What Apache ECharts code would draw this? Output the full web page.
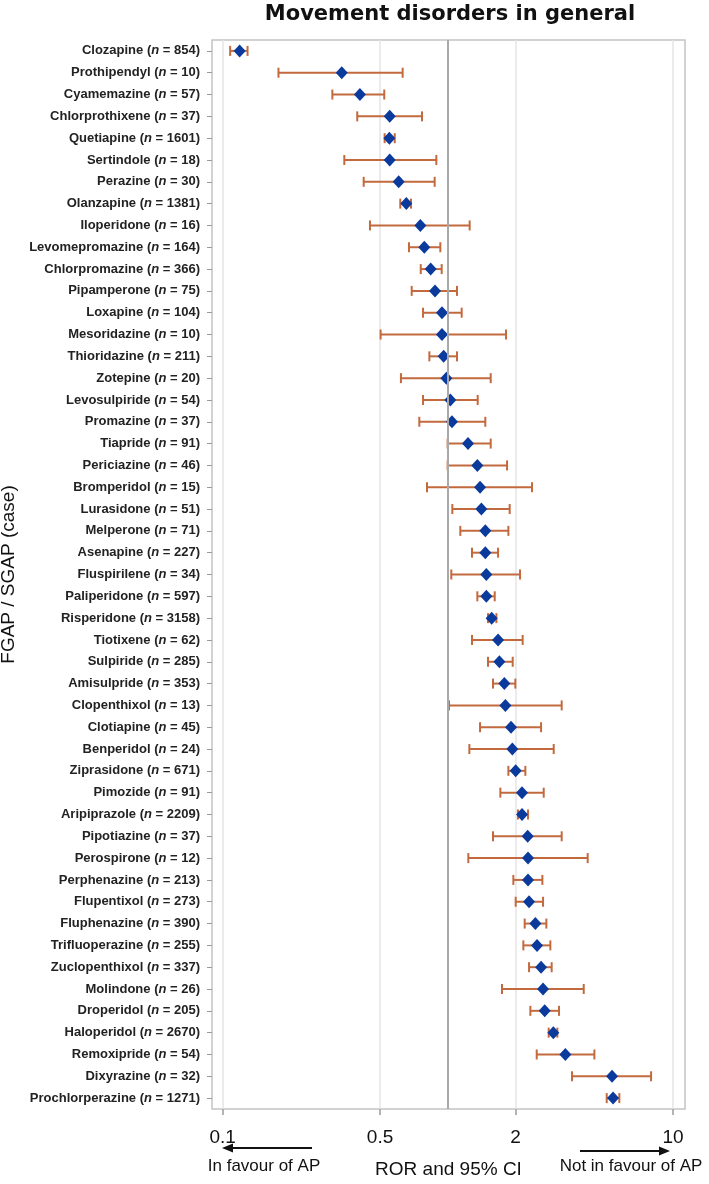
<!DOCTYPE html>
<html>
<head>
<meta charset="utf-8">
<script src="https://cdn.jsdelivr.net/npm/echarts@6/dist/echarts.min.js"></script>
<style>html,body{margin:0;padding:0;background:#fff;}#c{width:709px;height:1184px;}</style>
</head>
<body>
<div id="c"></div>
<script>
const drugs = ['Clozapine','Prothipendyl','Cyamemazine','Chlorprothixene','Quetiapine','Sertindole','Perazine','Olanzapine','Iloperidone','Levomepromazine','Chlorpromazine','Pipamperone','Loxapine','Mesoridazine','Thioridazine','Zotepine','Levosulpiride','Promazine','Tiapride','Periciazine','Bromperidol','Lurasidone','Melperone','Asenapine','Fluspirilene','Paliperidone','Risperidone','Tiotixene','Sulpiride','Amisulpride','Clopenthixol','Clotiapine','Benperidol','Ziprasidone','Pimozide','Aripiprazole','Pipotiazine','Perospirone','Perphenazine','Flupentixol','Fluphenazine','Trifluoperazine','Zuclopenthixol','Molindone','Droperidol','Haloperidol','Remoxipride','Dixyrazine','Prochlorperazine'];
const cases = [854,10,57,37,1601,18,30,1381,16,164,366,75,104,10,211,20,54,37,91,46,15,51,71,227,34,597,3158,62,285,353,13,45,24,671,91,2209,37,12,213,273,390,255,337,26,205,2670,54,32,1271];
const ror = [0.119,0.338,0.407,0.552,0.550,0.552,0.605,0.654,0.755,0.786,0.839,0.877,0.942,0.942,0.958,0.985,1.026,1.043,1.229,1.352,1.390,1.409,1.467,1.467,1.482,1.482,1.565,1.671,1.694,1.782,1.801,1.908,1.934,2.001,2.135,2.135,2.262,2.270,2.270,2.294,2.447,2.489,2.594,2.647,2.692,2.941,3.325,5.360,5.415];
const ciLow = [0.108,0.177,0.307,0.396,0.524,0.347,0.423,0.615,0.451,0.672,0.758,0.691,0.776,0.503,0.828,0.619,0.776,0.747,0.998,0.998,0.808,1.047,1.136,1.280,1.036,1.352,1.508,1.280,1.508,1.587,1.012,1.390,1.246,1.857,1.711,2.049,1.587,1.233,1.954,2.001,2.194,2.164,2.294,1.740,2.325,2.804,2.481,3.560,5.075];
const ciHigh = [0.129,0.630,0.522,0.768,0.581,0.889,0.874,0.686,1.250,0.926,0.939,1.098,1.152,1.813,1.098,1.550,1.357,1.467,1.550,1.832,2.365,1.882,1.857,1.671,2.092,1.615,1.643,2.149,1.941,1.994,3.203,2.594,2.952,2.209,2.665,2.270,3.203,4.178,2.629,2.647,2.738,2.852,2.891,4.012,3.117,3.064,4.474,7.988,5.775];
const xTicks = [0.1, 0.5, 2, 10];
const refValue = 1;
const xMin = 0.0897, xMax = 11.3;

const chart = echarts.init(document.getElementById('c'), null, {renderer: 'canvas'});
const labelFont = 'Liberation Sans, Arial, sans-serif';
const option = {
  animation: false,
  backgroundColor: '#ffffff',
  grid: {left: 212, right: 24, top: 40, bottom: 75, show: true, borderColor: '#c4c4c4', borderWidth: 1.5, containLabel: false, outerBoundsMode: 'none'},
  xAxis: {
    type: 'log', logBase: 10, min: xMin, max: xMax,
    axisLine: {show: false},
    axisTick: {show: true, customValues: xTicks, length: 6, lineStyle: {color: '#9a9a9a', width: 1.5}},
    axisLabel: {customValues: xTicks, margin: 19, fontSize: 19, color: '#111', fontFamily: labelFont,
      formatter: v => String(v)},
    splitLine: {show: true, lineStyle: {color: '#e4e4e4', width: 1.5}},
    minorSplitLine: {show: false},
    name: 'ROR and 95% CI', nameLocation: 'middle', nameGap: 51,
    nameTextStyle: {fontSize: 19, color: '#111', fontFamily: labelFont}
  },
  yAxis: {
    type: 'category', data: drugs, inverse: true,
    axisLine: {show: false},
    axisTick: {show: true, alignWithLabel: true, length: 5, lineStyle: {color: '#9a9a9a'}},
    splitLine: {show: false},
    axisLabel: {
      interval: 0, margin: 12,
      formatter: (v, i) => '{b|' + v + ' (}{i|n}{b| = ' + cases[i] + ')}',
      rich: {
        b: {fontSize: 13, fontWeight: 'bold', color: '#222', fontFamily: labelFont},
        i: {fontSize: 13, fontWeight: 'bold', fontStyle: 'italic', color: '#222', fontFamily: labelFont}
      }
    },
    name: 'FGAP / SGAP (case)', nameLocation: 'middle', nameGap: 186, nameRotate: 90,
    nameTextStyle: {fontSize: 19, color: '#111', fontFamily: labelFont}
  },
  series: [
    {
      type: 'custom', z: 2,
      data: ciLow.map((l, i) => [l, ciHigh[i], i]),
      encode: {x: [0, 1], y: 2},
      renderItem: (params, api) => {
        const a = api.coord([api.value(0), api.value(2)]);
        const b = api.coord([api.value(1), api.value(2)]);
        const h = 5;
        const st = {stroke: '#c26a3e', lineWidth: 2, fill: null};
        return {type: 'group', children: [
          {type: 'line', shape: {x1: a[0], y1: a[1], x2: b[0], y2: b[1]}, style: st},
          {type: 'line', shape: {x1: a[0], y1: a[1] - h, x2: a[0], y2: a[1] + h}, style: st},
          {type: 'line', shape: {x1: b[0], y1: b[1] - h, x2: b[0], y2: b[1] + h}, style: st}
        ]};
      }
    },
    {
      type: 'scatter', z: 3,
      symbol: 'diamond', symbolSize: [12, 13],
      itemStyle: {color: '#0a3a9c', opacity: 1},
      data: ror.map((v, i) => [v, i]),
      markLine: {
        silent: true, symbol: 'none', label: {show: false},
        lineStyle: {color: '#a9a9a9', width: 2, type: 'solid'},
        data: [{xAxis: refValue}]
      }
    }
  ],
  graphic: [
    {type: 'text', x: 450, y: 15, style: {text: 'Movement disorders in general', font: 'bold 21px "DejaVu Sans", sans-serif', fill: '#111', align: 'center', verticalAlign: 'middle'}},
    {type: 'text', x: 264, y: 1166, style: {text: 'In favour of AP', font: '17px "Liberation Sans", Arial, sans-serif', fill: '#111', align: 'center', verticalAlign: 'middle'}},
    {type: 'text', x: 631, y: 1166, style: {text: 'Not in favour of AP', font: '17px "Liberation Sans", Arial, sans-serif', fill: '#111', align: 'center', verticalAlign: 'middle'}},
    {type: 'line', shape: {x1: 231, y1: 1148, x2: 312, y2: 1148}, style: {stroke: '#111', lineWidth: 2}},
    {type: 'polygon', shape: {points: [[222, 1148], [233, 1143.5], [233, 1152.5]]}, style: {fill: '#111'}},
    {type: 'line', shape: {x1: 580, y1: 1151, x2: 661, y2: 1151}, style: {stroke: '#111', lineWidth: 2}},
    {type: 'polygon', shape: {points: [[670, 1151], [659, 1146.5], [659, 1155.5]]}, style: {fill: '#111'}}
  ]
};
chart.setOption(option);
</script>
</body>
</html>
